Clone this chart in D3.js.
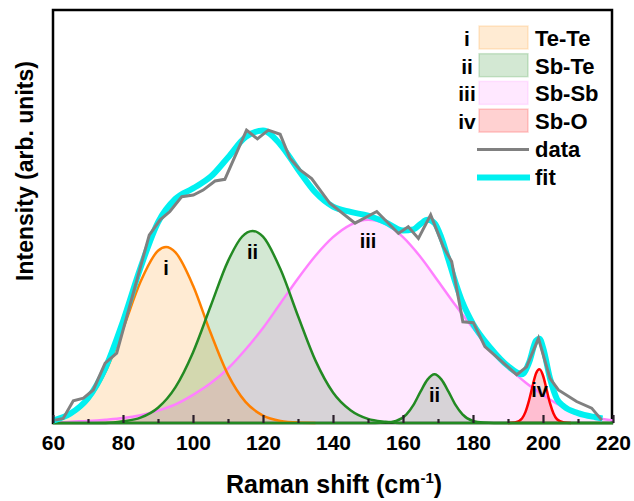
<!DOCTYPE html>
<html>
<head>
<meta charset="utf-8">
<script src="https://cdn.jsdelivr.net/npm/d3@7"></script>
<style>
body { margin: 0; background: #fff; }
text { font-family: "Liberation Sans", Arial, sans-serif; font-weight: bold; fill: #000; }
</style>
</head>
<body>
<svg id="chart" width="634" height="501"></svg>
<script>
// measured Raman spectrum (gray)
var ramanShift = [60.6, 62.9, 65.8, 68.7, 71.5, 74.9, 78.2, 87.5, 90.6, 93.4, 96.8, 100.1, 102.9, 106.3, 109.1,
  115.3, 118.4, 121.5, 124.9, 127.7, 130.6, 133.9, 139.1, 146.3, 152.5, 158.7, 161.5, 164.4, 167.9, 171.5,
  173.9, 177.1, 180.1, 183.4, 187.7, 192.5, 195.3, 198.7, 202.0, 204.4, 209.6, 213.9, 216.8];
var intensity = [0.7, 1.1, 5.4, 6.0, 8.0, 14.5, 16.9, 45.5, 49.2, 51.2, 54.8, 55.2, 56.4, 58.6, 59.0,
  70.9, 68.8, 70.9, 69.9, 64.1, 61.3, 59.2, 53.2, 48.4, 51.2, 45.9, 47.5, 44.7, 50.4, 42.7,
  39.1, 24.5, 24.3, 18.5, 15.3, 11.7, 13.6, 20.5, 10.8, 8.0, 5.2, 3.6, 0.7];

// total fit (cyan)
var fitCurve = [[60, 0.6], [65, 2.3], [70, 6.0], [75, 13.4], [80, 24.6], [85, 37.6], [90, 48.6], [95, 54.3],
  [100, 56.8], [105, 59.6], [110, 64.3], [115, 69.2], [120, 70.8], [125, 67.4], [130, 61.4], [135, 55.8],
  [140, 52.4], [145, 51.1], [150, 50.2], [155, 48.6], [160, 46.6], [163, 46.9], [165, 48.2], [167, 49.2],
  [169, 48.4], [171, 44.8], [173, 39.5], [175, 34.0], [177, 29.2], [180, 24.0], [185, 18.2], [190, 13.8],
  [194, 11.8], [196, 14.6], [198, 19.9], [199, 20.4], [200, 18.3], [202, 10.8], [204, 5.8], [206, 4.0],
  [210, 2.4], [215, 1.4], [217, 1.1]];

// fitted components
var teTe = [[60, 0.6], [65, 2.0], [70, 5.5], [75, 12.4], [80, 22.8], [85, 34.2], [90, 41.7], [92.3, 42.6],
  [95, 41.3], [100, 33.3], [105, 21.9], [110, 11.7], [115, 5.1], [120, 1.8], [125, 0.5], [130, 0.1], [135, 0]];
var sbTe = [[60, 0], [75, 0], [80, 0.4], [85, 1.3], [90, 3.7], [95, 8.7], [100, 17.1], [105, 28.2], [110, 39.2],
  [114, 45.1], [117, 46.5], [120, 45.1], [125, 37.2], [130, 25.9], [135, 15.1], [140, 7.4], [145, 3.1],
  [150, 1.0], [155, 0.3], [160, 0], [220, 0]];
var sbSb = [[60, 0], [65, 0.3], [70, 0.5], [75, 0.8], [80, 1.2], [85, 1.9], [90, 3.0], [95, 4.5], [100, 6.8],
  [105, 9.6], [110, 13.2], [115, 17.8], [120, 23.0], [125, 29.0], [130, 35.0], [135, 40.5], [140, 45.0],
  [145, 48.0], [150, 49.2], [155, 48.2], [160, 45.0], [165, 40.2], [170, 34.4], [175, 28.5], [180, 23.0],
  [185, 18.0], [190, 13.6], [195, 9.8], [200, 6.8], [205, 4.2], [210, 2.5], [215, 1.3], [220, 0.6]];
var sbTe2 = [[60, 0], [152, 0], [155, 0.1], [158, 0.5], [161, 2.1], [163, 4.4], [165, 7.6], [167, 10.5],
  [169, 11.8], [171, 10.5], [173, 7.6], [175, 4.4], [177, 2.1], [180, 0.5], [183, 0.1], [186, 0], [220, 0]];
var sbO = [[190, 0], [192, 0.1], [194, 1.1], [195, 2.7], [196, 5.4], [197, 8.9], [198, 12.0], [199, 13.0],
  [200, 11.5], [201, 8.2], [202, 4.8], [203, 2.3], [204, 0.9], [206, 0.1], [208, 0]];

var majorTicks = [60, 80, 100, 120, 140, 160, 180, 200, 220];
var minorTicks = [70, 90, 110, 130, 150, 170, 190, 210];
var bandNames = ['Te-Te', 'Sb-Te', 'Sb-Sb', 'Sb-O'];
var bandLabels = ['i', 'ii', 'iii', 'iv'];

var C = {
  teTe: { line: '#ff8000', fill: 'rgba(255,150,20,0.19)' },
  sbTe: { line: '#238a23', fill: 'rgba(34,139,34,0.2)' },
  sbSb: { line: '#ff80ff', fill: 'rgba(255,0,255,0.09)' },
  sbO:  { line: '#ff0000', fill: 'rgba(255,0,0,0.18)' }
};

var svg = d3.select('#chart');
var x = d3.scaleLinear().domain([60, 220]).range([53, 613]);
var y = d3.scaleLinear().domain([0, 100]).range([423, 10]);

// frame
svg.append('rect')
  .attr('x', 53).attr('y', 10)
  .attr('width', 559).attr('height', 413)
  .attr('fill', 'none').attr('stroke', '#000').attr('stroke-width', 2.5);

svg.append('clipPath').attr('id', 'plot-clip')
  .append('rect').attr('x', 53).attr('y', 8).attr('width', 561).attr('height', 417);
var plot = svg.append('g').attr('clip-path', 'url(#plot-clip)');

var area = d3.area().curve(d3.curveMonotoneX)
  .x(function(d) { return x(d[0]); })
  .y0(y(0))
  .y1(function(d) { return y(d[1]); });
var line = d3.line().curve(d3.curveMonotoneX)
  .x(function(d) { return x(d[0]); })
  .y(function(d) { return y(d[1]); });

// fills
plot.append('path').datum(teTe).attr('d', area).attr('fill', C.teTe.fill);
plot.append('path').datum(sbTe).attr('d', area).attr('fill', C.sbTe.fill);
plot.append('path').datum(sbTe2).attr('d', area).attr('fill', C.sbTe.fill);
plot.append('path').datum(sbSb).attr('d', area).attr('fill', C.sbSb.fill);
plot.append('path').datum(sbO).attr('d', area).attr('fill', C.sbO.fill);

// ticks (inside)
var gx = svg.append('g').attr('transform', 'translate(0,423)')
  .call(d3.axisBottom(x).tickValues(majorTicks).tickSize(-8).tickPadding(12).tickFormat(d3.format('d')));
gx.select('.domain').remove();
gx.selectAll('.tick line').attr('stroke', '#2a1f2a').attr('stroke-width', 2.2);
gx.selectAll('.tick text').style('font-size', '21px');
var gm = svg.append('g').attr('transform', 'translate(0,423)')
  .call(d3.axisBottom(x).tickValues(minorTicks).tickSize(-4).tickFormat(''));
gm.select('.domain').remove();
gm.selectAll('.tick line').attr('stroke', '#2a1f2a').attr('stroke-width', 2.2);

// component lines
plot.append('path').datum(sbSb).attr('d', line).attr('fill', 'none').attr('stroke', C.sbSb.line).attr('stroke-width', 2.5);
plot.append('path').datum(teTe).attr('d', line).attr('fill', 'none').attr('stroke', C.teTe.line).attr('stroke-width', 2.5);
plot.append('path').datum(sbO).attr('d', line).attr('fill', 'none').attr('stroke', C.sbO.line).attr('stroke-width', 2.5);
plot.append('path').datum(sbTe).attr('d', line).attr('fill', 'none').attr('stroke', C.sbTe.line).attr('stroke-width', 2.5);
plot.append('path').datum(sbTe2).attr('d', line).attr('fill', 'none').attr('stroke', C.sbTe.line).attr('stroke-width', 2.5);

// fit and data
plot.append('path').datum(fitCurve).attr('d', line)
  .attr('fill', 'none').attr('stroke', '#00f0f0').attr('stroke-width', 6);
var dataLine = d3.line().x(function(d, i) { return x(ramanShift[i]); }).y(function(d) { return y(d); });
plot.append('path').datum(intensity).attr('d', dataLine)
  .attr('fill', 'none').attr('stroke', '#808080').attr('stroke-width', 3).attr('stroke-linejoin', 'miter');

// peak labels
var peakLabels = [['i', 92.3, 42.6], ['ii', 117, 46.5], ['iii', 150, 49.2], ['ii', 169, 11.8], ['iv', 199, 13]];
svg.selectAll('.peak-label').data(peakLabels).enter().append('text')
  .attr('class', 'peak-label')
  .attr('x', function(d) { return x(d[1]); })
  .attr('y', function(d) { return y(d[2]) + 28; })
  .attr('text-anchor', 'middle')
  .style('font-size', '20px')
  .text(function(d) { return d[0]; });

// legend
var lg = svg.append('g');
var fills = [C.teTe, C.sbTe, C.sbSb, C.sbO];
bandNames.forEach(function(name, i) {
  var yy = 26 + i * 27.7;
  lg.append('rect').attr('x', 479).attr('y', yy).attr('width', 49).attr('height', 23)
    .attr('fill', fills[i].fill).attr('stroke', fills[i].fill).attr('stroke-width', 1.5);
  lg.append('text').attr('x', 467).attr('y', yy + 20).attr('text-anchor', 'middle')
    .style('font-size', '21px').text(bandLabels[i]);
  lg.append('text').attr('x', 535).attr('y', yy + 20)
    .style('font-size', '22px').text(name);
});
lg.append('line').attr('x1', 477).attr('x2', 529).attr('y1', 149.5).attr('y2', 149.5)
  .attr('stroke', '#808080').attr('stroke-width', 3);
lg.append('text').attr('x', 535).attr('y', 157).style('font-size', '22px').text('data');
lg.append('line').attr('x1', 477).attr('x2', 530).attr('y1', 177.5).attr('y2', 177.5)
  .attr('stroke', '#00f0f0').attr('stroke-width', 6);
lg.append('text').attr('x', 535).attr('y', 185).style('font-size', '22px').text('fit');

// axis titles
var xt = svg.append('text').attr('x', 334).attr('y', 493).attr('text-anchor', 'middle').style('font-size', '25px');
xt.append('tspan').text('Raman shift (cm');
xt.append('tspan').attr('dy', -10).style('font-size', '15px').text('-1');
xt.append('tspan').attr('dy', 10).text(')');
svg.append('text').attr('transform', 'translate(33,171) rotate(-90)')
  .attr('text-anchor', 'middle').style('font-size', '23px').text('Intensity (arb. units)');
</script>
</body>
</html>
